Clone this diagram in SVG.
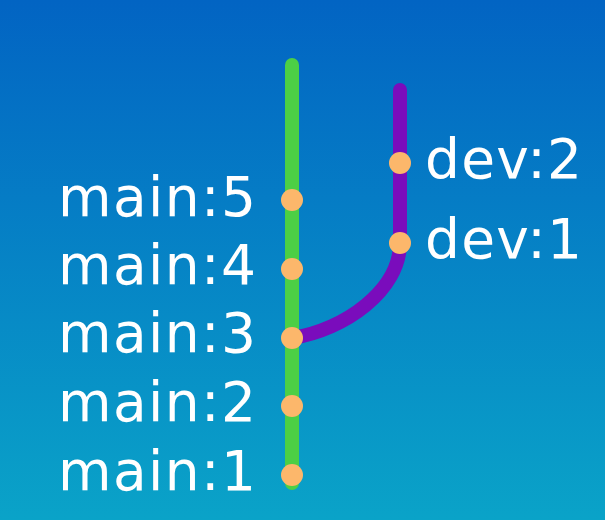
<svg xmlns="http://www.w3.org/2000/svg" width="605" height="520" viewBox="0 0 605 520">
<defs>
<linearGradient id="bg" x1="0" y1="0" x2="0" y2="1">
<stop offset="0" stop-color="#0264c3"/>
<stop offset="1" stop-color="#0aa3c8"/>
</linearGradient>
</defs>
<style>
.lbl{font-family:"DejaVu Sans","Noto Sans",sans-serif;font-size:55px;fill:#ffffff}
.dot{fill:#fcb76b}
.main{stroke:#4ccf45;stroke-width:14;fill:none;stroke-linecap:round}
.dev{stroke:#7a0cbc;stroke-width:14;fill:none;stroke-linecap:round}
</style>
<rect width="605" height="520" fill="url(#bg)"/>
<g id="connectors">
<path class="main" d="M292,65 L292,483"/>
<path class="dev" d="M400,90 L400,243 C400,290 345,330 292,338"/>
</g>
<g id="main5"><circle class="dot" cx="292" cy="200" r="11"/><text class="lbl" x="58" y="216" textLength="198" lengthAdjust="spacing">main:5</text></g>
<g id="main4"><circle class="dot" cx="292" cy="269" r="11"/><text class="lbl" x="58" y="284" textLength="198" lengthAdjust="spacing">main:4</text></g>
<g id="main3"><circle class="dot" cx="292" cy="338" r="11"/><text class="lbl" x="58" y="352" textLength="198" lengthAdjust="spacing">main:3</text></g>
<g id="main2"><circle class="dot" cx="292" cy="406" r="11"/><text class="lbl" x="58" y="421" textLength="198" lengthAdjust="spacing">main:2</text></g>
<g id="main1"><circle class="dot" cx="292" cy="475" r="11"/><text class="lbl" x="58" y="490" textLength="198" lengthAdjust="spacing">main:1</text></g>
<g id="dev2"><circle class="dot" cx="400" cy="163" r="11"/><text class="lbl" x="425" y="178" textLength="157" lengthAdjust="spacing">dev:2</text></g>
<g id="dev1"><circle class="dot" cx="400" cy="243" r="11"/><text class="lbl" x="425" y="258" textLength="157" lengthAdjust="spacing">dev:1</text></g>
</svg>
